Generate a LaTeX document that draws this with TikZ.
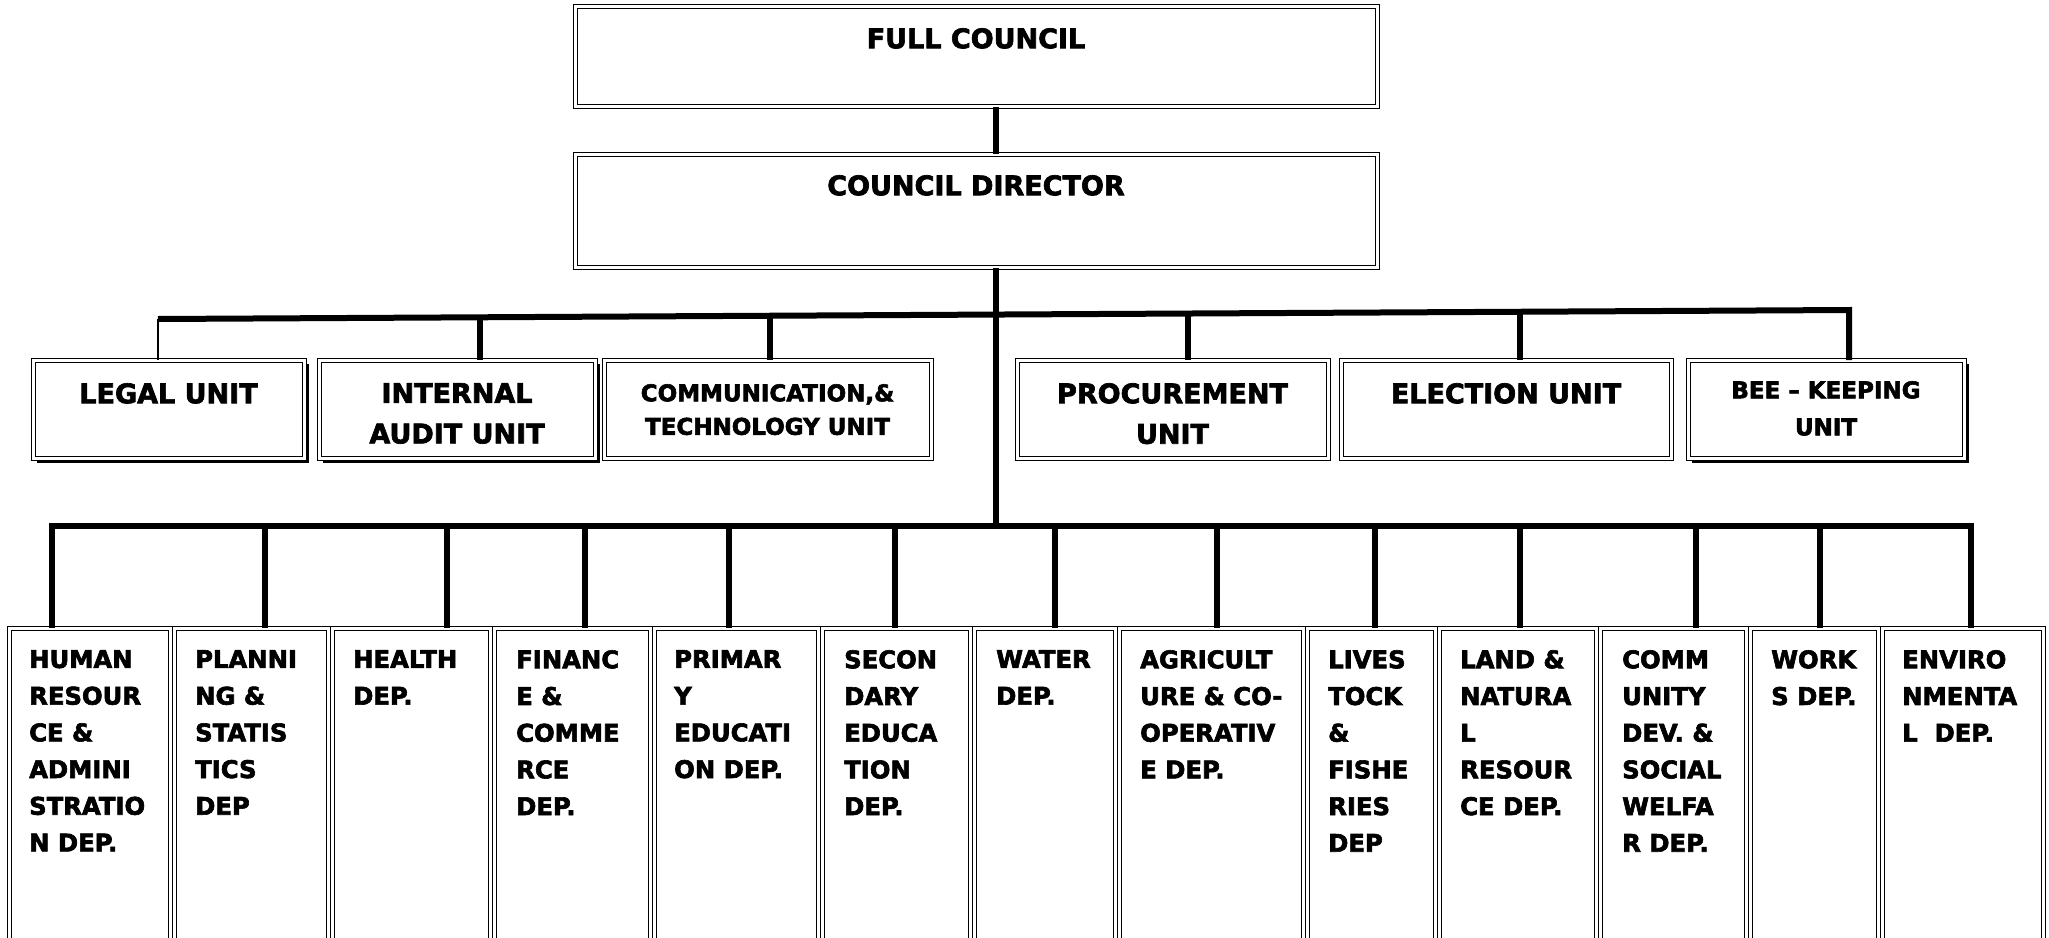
\documentclass[tikz,border=0pt]{standalone}
\usepackage{fontspec}
\setmainfont{DejaVu Sans}[BoldFeatures={FakeBold=2.5}]
\begin{document}
\begin{tikzpicture}[x=1pt,y=-1pt,
  dbox/.style={draw=black, line width=1.3pt, double=white, double distance=2.6pt,
               rectangle, anchor=north west, inner sep=0pt},
  conn/.style={line width=6pt},
  thinconn/.style={line width=1.6pt},
  shade/.style={draw=black, line width=1.3pt},
  ttl/.style={anchor=north, inner sep=0pt, align=center,
              font=\fontsize{27}{40.5}\selectfont\bfseries},
  utxt/.style={anchor=north, inner sep=0pt, align=center,
               font=\fontsize{27}{40.5}\selectfont\bfseries},
  usmall/.style={anchor=north, inner sep=0pt, align=center,
               font=\fontsize{23}{33.5}\selectfont\bfseries},
  dtxt/.style={anchor=north west, inner sep=0pt, align=left,
               font=\fontsize{24.3}{36.7}\selectfont\bfseries}
]
\path[use as bounding box, clip] (0,0) rectangle (2049,937);
\fill[white] (0,0) rectangle (2049,937);

% ---- top boxes
\node[dbox, minimum width=802pt, minimum height=100pt] (fc) at (575,6) {};
\node[ttl] (fct) at (976,28) {FULL COUNCIL};
\node[dbox, minimum width=802pt, minimum height=113pt] (cd) at (575,154) {};
\node[ttl] (cdt) at (976,175) {COUNCIL DIRECTOR};

\coordinate (spine) at (996,0);
\draw[conn] (fc.south -| spine) -- (cd.north -| spine);

% ---- unit shadows
\draw[shade] (308,364) -- (308,462) -- (37,462);
\draw[shade] (599,364) -- (599,462) -- (323,462);
\draw[shade] (1968,364) -- (1968,462) -- (1692,462);

% ---- unit boxes
\node[dbox, minimum width=271pt, minimum height=98pt] (legal) at (33,360) {};
\node[dbox, minimum width=276pt, minimum height=98pt] (audit) at (319,360) {};
\node[dbox, minimum width=327pt, minimum height=98pt] (comm) at (604,360) {};
\node[dbox, minimum width=311pt, minimum height=98pt] (proc) at (1017,360) {};
\node[dbox, minimum width=330pt, minimum height=98pt] (elec) at (1341,360) {};
\node[dbox, minimum width=276pt, minimum height=98pt] (bee) at (1688,360) {};

\node[utxt] (legalt) at (168.5,383) {LEGAL UNIT};
\node[utxt] (auditt) at (457,383) {INTERNAL\\AUDIT UNIT};
\node[usmall] (commt) at (767.5,384) {COMMUNICATION,\&\\TECHNOLOGY UNIT};
\node[utxt] (proct) at (1172.5,383) {PROCUREMENT\\UNIT};
\node[utxt] (elect) at (1506,383) {ELECTION UNIT};
\node[usmall] (beet) at (1826,381) {BEE -- KEEPING\\[3.5pt]UNIT};

% ---- upper bus
\coordinate (ubL) at (158,319);
\coordinate (ubR) at (1849,310);
\coordinate (ub2) at (480,317.3);
\coordinate (ub3) at (770,315.7);
\coordinate (ub4) at (1188,313.5);
\coordinate (ub5) at (1520,311.8);
\draw[thinconn] (ubL) -- (legal.north -| ubL);
\draw[conn, line join=miter] (ubL) -- (ubR) -- (bee.north -| ubR);
\draw[conn] (ub2) -- (audit.north -| ub2);
\draw[conn] (ub3) -- (comm.north -| ub3);
\draw[conn] (ub4) -- (proc.north -| ub4);
\draw[conn] (ub5) -- (elec.north -| ub5);

% ---- department boxes
\node[dbox, minimum width=161pt, minimum height=360pt] (d1) at (9,628) {};
\node[dbox, minimum width=154pt, minimum height=360pt] (d2) at (174,628) {};
\node[dbox, minimum width=158pt, minimum height=360pt] (d3) at (332,628) {};
\node[dbox, minimum width=156pt, minimum height=360pt] (d4) at (494,628) {};
\node[dbox, minimum width=164pt, minimum height=360pt] (d5) at (654,628) {};
\node[dbox, minimum width=148pt, minimum height=360pt] (d6) at (822,628) {};
\node[dbox, minimum width=141pt, minimum height=360pt] (d7) at (974,628) {};
\node[dbox, minimum width=184pt, minimum height=360pt] (d8) at (1119,628) {};
\node[dbox, minimum width=128pt, minimum height=360pt] (d9) at (1307,628) {};
\node[dbox, minimum width=157pt, minimum height=360pt] (d10) at (1439,628) {};
\node[dbox, minimum width=146pt, minimum height=360pt] (d11) at (1600,628) {};
\node[dbox, minimum width=128pt, minimum height=360pt] (d12) at (1750,628) {};
\node[dbox, minimum width=161pt, minimum height=360pt] (d13) at (1882,628) {};

\node[dtxt] (t1) at (29,650) {HUMAN\\RESOUR\\CE \&\\ADMINI\\STRATIO\\N DEP.};
\node[dtxt] (t2) at (195,650) {PLANNI\\NG \&\\STATIS\\TICS\\DEP};
\node[dtxt] (t3) at (353,650) {HEALTH\\DEP.};
\node[dtxt] (t4) at (516,650) {FINANC\\E \&\\COMME\\RCE\\DEP.};
\node[dtxt] (t5) at (674,650) {PRIMAR\\Y\\EDUCATI\\ON DEP.};
\node[dtxt] (t6) at (844,650) {SECON\\DARY\\EDUCA\\TION\\DEP.};
\node[dtxt] (t7) at (996,650) {WATER\\DEP.};
\node[dtxt] (t8) at (1140,650) {AGRICULT\\URE \& CO-\\OPERATIV\\E DEP.};
\node[dtxt] (t9) at (1328,650) {LIVES\\TOCK\\\&\\FISHE\\RIES\\DEP};
\node[dtxt] (t10) at (1460,650) {LAND \&\\NATURA\\L\\RESOUR\\CE DEP.};
\node[dtxt] (t11) at (1622,650) {COMM\\UNITY\\DEV. \&\\SOCIAL\\WELFA\\R DEP.};
\node[dtxt] (t12) at (1771,650) {WORK\\S DEP.};
\node[dtxt] (t13) at (1902,650) {ENVIRO\\NMENTA\\L\ \ DEP.};

% ---- lower bus
\coordinate (lbL) at (52,526);
\coordinate (lbR) at (1971,526);
\draw[conn] (cd.south -| spine) -- (lbL -| spine);
\draw[conn, line join=miter] (d1.north -| lbL) -- (lbL) -- (lbR) -- (d13.north -| lbR);
\foreach \xx/\dd in {265/d2, 447/d3, 585/d4, 729/d5, 895/d6, 1055/d7, 1217/d8,
                    1375/d9, 1520/d10, 1696/d11, 1820/d12} {
  \draw[conn] (\xx,526) -- (\dd.north -| {(\xx,0)});
}
\end{tikzpicture}
\end{document}
